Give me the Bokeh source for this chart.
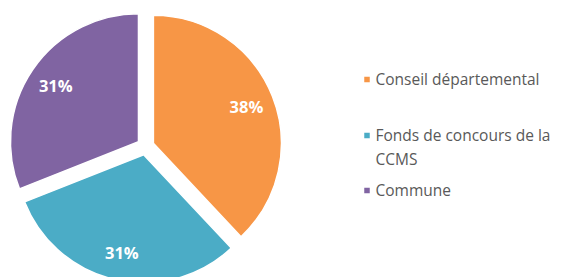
import math
from bokeh.plotting import figure
from bokeh.models import ColumnDataSource
from bokeh.core.properties import value
from bokeh.embed import file_html
from bokeh.resources import INLINE

# ---- data ----
categories = ["Conseil départemental", "Fonds de concours de la\nCCMS", "Commune"]
shares = [38, 31, 31]
pct_labels = ["38%", "31%", "31%"]
colors = ["#F79646", "#4BACC6", "#8064A2"]

# ---- layout constants (pixels in plot space) ----
W, H = 561, 277
CX, CY = 145.0, 131.0      # pie centre
R = 128.0                  # radius
EXPLODE = 8.5              # explode distance
LABEL_R = 100.0            # label distance from slice vertex

total = float(sum(shares))
starts, ends, xs, ys, lx, ly = [], [], [], [], [], []
acc = 0.0
for v in shares:
    a0 = math.pi / 2 - 2 * math.pi * acc / total
    acc += v
    a1 = math.pi / 2 - 2 * math.pi * acc / total
    mid = (a0 + a1) / 2
    vx = CX + EXPLODE * math.cos(mid)
    vy = CY + EXPLODE * math.sin(mid)
    xs.append(vx); ys.append(vy)
    starts.append(a1); ends.append(a0)
    lx.append(vx + LABEL_R * math.cos(mid))
    ly.append(vy + LABEL_R * math.sin(mid))

src = ColumnDataSource(dict(x=xs, y=ys, start=starts, end=ends, color=colors,
                            lx=lx, ly=ly, label=pct_labels))

p = figure(width=W, height=H, x_range=(0, W), y_range=(0, H),
           output_backend="svg", toolbar_location=None, min_border=0)
p.axis.visible = False
p.grid.visible = False
p.outline_line_color = None
p.background_fill_color = "white"

p.wedge(x="x", y="y", radius=R, start_angle="start", end_angle="end",
        fill_color="color", line_color="white", line_width=1.5, source=src)
p.text(x="lx", y="ly", text="label", source=src, text_color="#FFFFFF",
       text_font=value("Open Sans"), text_font_style="bold",
       text_font_size="16.5px", text_align="center", text_baseline="middle")

# legend (screen-space centres of first lines, measured from top)
leg_y = [79, 135, 190]
leg_src = ColumnDataSource(dict(
    sx=[366.5] * 3, tx=[375] * 3,
    sy=[H - v for v in leg_y],
    ty=[H - v + 12 for v in leg_y],
    color=colors, label=categories))
p.scatter(x="sx", y="sy", marker="square", size=5.5, fill_color="color",
          line_color=None, source=leg_src)
p.text(x="tx", y="ty", text="label", source=leg_src, text_color="#595959",
       text_font=value("Open Sans"), text_font_size="15.5px",
       text_align="left", text_baseline="top", text_line_height=1.1)

open("out.html", "w").write(file_html(p, INLINE))
